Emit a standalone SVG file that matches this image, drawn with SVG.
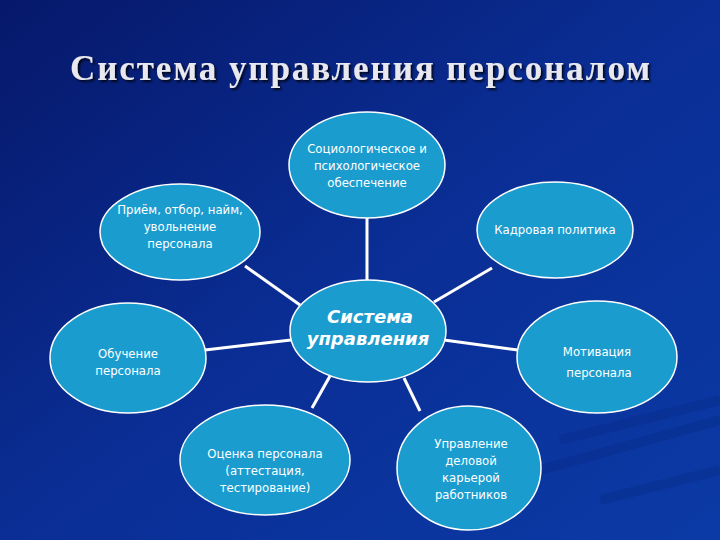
<svg xmlns="http://www.w3.org/2000/svg" width="720" height="540" viewBox="0 0 720 540">
<defs>
<linearGradient id="bg" x1="0" y1="0" x2="1" y2="1">
<stop offset="0" stop-color="#06186a"/>
<stop offset="0.5" stop-color="#0a2e95"/>
<stop offset="1" stop-color="#0b3aa6"/>
</linearGradient>
<filter id="sh"><feDropShadow dx="2" dy="2" stdDeviation="1" flood-color="#000" flood-opacity="0.8"/></filter>
</defs>
<style>
.n{fill:#1a9ccf;stroke:#ffffff;stroke-width:1.5}
.t{fill:#ffffff;font-family:"DejaVu Sans Condensed","DejaVu Sans",sans-serif;font-size:13px;text-anchor:middle}
.c{fill:#ffffff;font-family:"DejaVu Sans",sans-serif;font-size:18px;font-weight:bold;font-style:italic;text-anchor:middle}
.l{stroke:#ffffff;stroke-width:3}
</style>
<rect width="720" height="540" fill="url(#bg)"/>
<g opacity="0.12" stroke="#02104a" stroke-width="10">
<line x1="560" y1="440" x2="720" y2="400"/>
<line x1="540" y1="470" x2="720" y2="420"/>
<line x1="600" y1="500" x2="720" y2="470"/>
</g>
<text x="360" y="80" fill="#e8e8ee" font-family="'Liberation Serif',serif" font-size="35" font-weight="bold" text-anchor="middle" textLength="580" lengthAdjust="spacing" filter="url(#sh)">Система управления персоналом</text>
<g id="connectors">
<line class="l" x1="367" y1="218" x2="367" y2="281"/>
<line class="l" x1="245" y1="266" x2="300" y2="305"/>
<line class="l" x1="492" y1="268" x2="434" y2="302"/>
<line class="l" x1="205" y1="350" x2="291" y2="340"/>
<line class="l" x1="444" y1="340" x2="518" y2="350"/>
<line class="l" x1="312" y1="408" x2="330" y2="376"/>
<line class="l" x1="404" y1="378" x2="420" y2="411"/>
</g>
<g id="n1"><ellipse class="n" cx="367" cy="165" rx="78" ry="53"/>
<text class="t" x="367" y="153">Социологическое и</text><text class="t" x="367" y="170">психологическое</text><text class="t" x="367" y="187">обеспечение</text></g>
<g id="n2"><ellipse class="n" cx="180" cy="232" rx="80" ry="48"/>
<text class="t" x="180" y="214">Приём, отбор, найм,</text><text class="t" x="180" y="231">увольнение</text><text class="t" x="180" y="248">персонала</text></g>
<g id="n3"><ellipse class="n" cx="555" cy="230" rx="78" ry="48"/>
<text class="t" x="555" y="234">Кадровая политика</text></g>
<g id="n4"><ellipse class="n" cx="368" cy="331" rx="78" ry="51"/>
<text class="c" x="370" y="323">Система</text><text class="c" x="368" y="345">управления</text></g>
<g id="n5"><ellipse class="n" cx="128" cy="358" rx="78" ry="55"/>
<text class="t" x="128" y="358">Обучение</text><text class="t" x="128" y="375">персонала</text></g>
<g id="n6"><ellipse class="n" cx="597" cy="357" rx="80" ry="56"/>
<text class="t" x="597" y="356">Мотивация</text><text class="t" x="599" y="377">персонала</text></g>
<g id="n7"><ellipse class="n" cx="265" cy="460" rx="85" ry="55"/>
<text class="t" x="265" y="458">Оценка персонала</text><text class="t" x="265" y="475">(аттестация,</text><text class="t" x="265" y="492">тестирование)</text></g>
<g id="n8"><ellipse class="n" cx="469" cy="468" rx="72" ry="62"/>
<text class="t" x="471" y="448">Управление</text><text class="t" x="471" y="465">деловой</text><text class="t" x="471" y="482">карьерой</text><text class="t" x="471" y="499">работников</text></g>
</svg>
